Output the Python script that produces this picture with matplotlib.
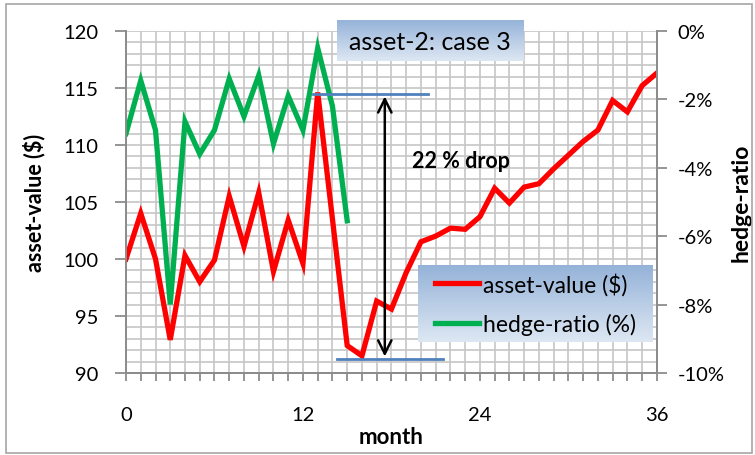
import numpy as np
import matplotlib
matplotlib.use('Agg')
import matplotlib.pyplot as plt
from matplotlib.ticker import MultipleLocator, FuncFormatter
from matplotlib.colors import LinearSegmentedColormap
import matplotlib.patches as mpatches

plt.rcParams['font.family'] = ['Lato', 'DejaVu Sans']

# data
months = np.arange(0, 37)
asset_value = [100.0, 104.0, 100.0, 92.9, 100.3, 98.0, 99.9, 105.5, 101.1, 105.8,
               98.9, 103.4, 99.6, 114.6, 103.5, 92.4, 91.5, 96.3, 95.6, 98.8,
               101.5, 102.0, 102.7, 102.6, 103.7, 106.2, 104.9, 106.3, 106.6, 107.9,
               109.1, 110.3, 111.3, 113.9, 112.9, 115.2, 116.3]
hedge_months = np.arange(0, 16)
hedge_ratio = [-3.0, -1.45, -2.9, -8.0, -2.65, -3.6, -2.9, -1.4, -2.5, -1.3,
               -3.3, -1.9, -2.9, -0.5, -2.2, -5.55]

peak_val, trough_val = 114.5, 91.2
drop_label = '22 % drop'

GRID = '#c6c6c6'; SPINE = '#8c8c8c'; RED = '#ff0000'; GREEN = '#00b050'; BLUE = '#4f81bd'

fig = plt.figure(figsize=(7.55, 4.56), dpi=100)
ax = fig.add_axes([0.1669, 0.18, 0.7031, 0.75])
ax2 = ax.twinx()

# grid + axes styling
ax.set_xlim(0, 36); ax.set_ylim(90, 120)
ax2.set_ylim(-10, 0)
ax.xaxis.set_major_locator(MultipleLocator(12))
ax.xaxis.set_minor_locator(MultipleLocator(1))
ax.yaxis.set_major_locator(MultipleLocator(5))
ax.yaxis.set_minor_locator(MultipleLocator(1))
ax2.yaxis.set_major_locator(MultipleLocator(2))
ax2.yaxis.set_major_formatter(FuncFormatter(lambda v, p: f'{v:.0f}%'.replace('\u2212', '-')))
ax.grid(True, which='both', color=GRID, linewidth=1.2)
ax.set_axisbelow(True)
for a in (ax, ax2):
    for s in a.spines.values():
        s.set_color(SPINE); s.set_linewidth(1.3)
    a.spines['top'].set_visible(False)
ax.tick_params(axis='x', which='both', length=6, width=1.3, color=SPINE, pad=18, labelsize=14.5)
ax.tick_params(axis='y', which='major', length=8, width=1.3, color=SPINE, pad=12, labelsize=14.5)
ax.tick_params(axis='y', which='minor', length=0)
ax2.tick_params(axis='y', length=7, width=1.3, color=SPINE, pad=8, labelsize=14.5)

l1, = ax.plot(months, asset_value, color=RED, lw=3.8, solid_joinstyle='miter', label='asset-value ($)')
l2, = ax2.plot(hedge_months, hedge_ratio, color=GREEN, lw=3.8, solid_joinstyle='miter', label='hedge-ratio (%)')

ax.set_ylabel('asset-value ($)', fontsize=15.5, fontweight='bold', labelpad=13)
ax2.set_ylabel('hedge-ratio', fontsize=16.5, fontweight='bold', rotation=90, labelpad=4)
ax.set_xlabel('month', fontsize=16, fontweight='bold', labelpad=2)

# drop annotation (drawn on top axis, in asset-value coordinates)
ax2.plot([12.7, 20.45], [peak_val, peak_val], color=BLUE, lw=2, transform=ax.transData)
ax2.plot([14.3, 21.5], [trough_val, trough_val], color=BLUE, lw=2, transform=ax.transData)
ax2.annotate('', xy=(17.55, trough_val), xytext=(17.55, peak_val),
             xycoords=ax.transData, textcoords=ax.transData,
             arrowprops=dict(arrowstyle='<->', color='black', lw=1.8, mutation_scale=24))
ax2.text(22.7, 108.6, drop_label, transform=ax.transData, ha='center', va='center',
         fontsize=15.5, fontweight='bold')

# gradient boxes
grad = LinearSegmentedColormap.from_list('g', ['#94b2d8', '#dde7f3'])
gimg = np.linspace(0, 1, 64).reshape(-1, 1)

tb = fig.add_axes([0.4464, 0.864, 0.2464, 0.09])
tb.imshow(gimg, cmap=grad, aspect='auto', extent=[0, 1, 0, 1], origin='upper')
tb.set_xlim(0, 1); tb.set_ylim(0, 1); tb.axis('off')
tb.text(0.5, 0.47, 'asset-2: case 3', ha='center', va='center', fontsize=18)

lb = fig.add_axes([0.5536, 0.2478, 0.31, 0.1689])
lb.imshow(gimg, cmap=grad, aspect='auto', extent=[0, 1, 0, 1], origin='upper')
lb.set_xlim(0, 1); lb.set_ylim(0, 1); lb.axis('off')
lb.legend([l1, l2], ['asset-value ($)', 'hedge-ratio (%)'], loc='center left',
          bbox_to_anchor=(0.0, 0.5), frameon=False, fontsize=16.5, handlelength=1.9,
          handletextpad=0.2, labelspacing=0.75, borderaxespad=0.35)

# figure border
fig.patches.append(mpatches.Rectangle((0.008, 0.004), 0.988, 0.986, transform=fig.transFigure,
                                      fill=False, edgecolor='#a6a6a6', lw=1.2))

fig.savefig('out.png', dpi=100)
